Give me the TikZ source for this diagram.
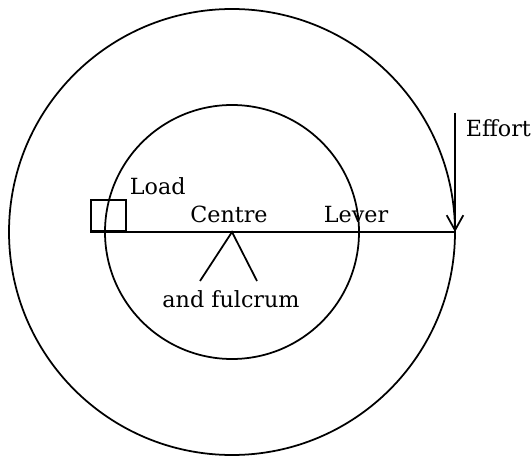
\documentclass[tikz,border=0pt]{standalone}
\usepackage{fontspec}
\setmainfont{DejaVu Serif}
\usetikzlibrary{arrows.meta,positioning}

\begin{document}
\begin{tikzpicture}[
  x=0.03cm, y=-0.03cm,
  line width=1.5pt,
  wheel/.style={draw, line width=1.5pt},
  loadbox/.style={draw, line width=1.5pt, minimum width=1.05cm, minimum height=0.93cm, inner sep=0pt},
  arrow/.style={-{Straight Barb[length=4.5mm,width=5mm]}},
  lbl/.style={font=\fontsize{19}{21}\selectfont, inner sep=0pt}
]
\useasboundingbox (0,0) rectangle (532,457);

% Wheel and axle
\coordinate (centre) at (232,232);
\draw[wheel] (centre) circle[radius=223*0.03cm];
\draw[wheel] (centre) circle[radius=127*0.03cm];

% Lever and load
\node[loadbox, anchor=south west] (load) at (90,232) {};
\coordinate (rim) at (455,232);
\draw (load.south west) -- (rim);

% Fulcrum
\coordinate (footl) at (200,281);
\coordinate (footr) at (257,281);
\draw (footl) -- (centre) -- (footr);

% Effort
\coordinate (efftop) at (455,113);
\draw[arrow] (efftop) -- (rim);

% Labels
\node[lbl, anchor=base west] (loadlbl) at (129,195) {Load};
\node[lbl, anchor=base] (centrelbl) at (229,223) {Centre};
\node[lbl, anchor=base] (leverlbl) at (356,223) {Lever};
\node[lbl, anchor=base west] (effortlbl) at (465,137) {Effort};
\node[lbl, anchor=base] (fulcrumlbl) at (231,307) {and fulcrum};

\end{tikzpicture}
\end{document}
